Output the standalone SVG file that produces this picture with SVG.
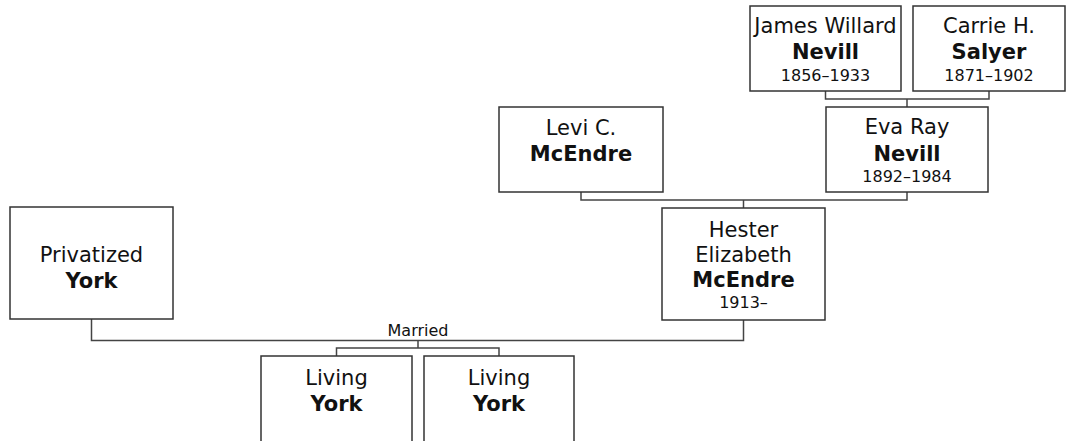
<svg xmlns="http://www.w3.org/2000/svg" width="1066" height="441" viewBox="0 0 1066 441">
<style>
.box{fill:#fff;stroke:#333;stroke-width:1.5}
.con{fill:none;stroke:#444;stroke-width:1.5}
text{font-family:"DejaVu Sans","Verdana",sans-serif;fill:#111;text-anchor:middle}
.n{font-size:21px}
.b{font-size:21px;font-weight:bold}
.d{font-size:16px}
.m{font-size:16px}
</style>
<rect width="1066" height="441" fill="#fff"/>
<g id="connectors">
<path class="con" d="M825.5 91 V99 H989 V91 M907 99 V107"/>
<path class="con" d="M581 192 V200 H907 V192 M743.5 200 V208"/>
<path class="con" d="M91.5 319 V340.5 H743.5 V320"/>
<path class="con" d="M418 340.5 V348 M336.5 356 V348 H499 V356"/>
<text class="m" x="418" y="336">Married</text>
</g>
<g id="james">
<rect class="box" x="750" y="6" width="151" height="85"/>
<text class="n" x="825.5" y="33">James Willard</text>
<text class="b" x="825.5" y="59">Nevill</text>
<text class="d" x="825.5" y="81">1856–1933</text>
</g>
<g id="carrie">
<rect class="box" x="913" y="6" width="152" height="85"/>
<text class="n" x="989" y="33">Carrie H.</text>
<text class="b" x="989" y="59">Salyer</text>
<text class="d" x="989" y="81">1871–1902</text>
</g>
<g id="eva">
<rect class="box" x="826" y="107" width="162" height="85"/>
<text class="n" x="907" y="134">Eva Ray</text>
<text class="b" x="907" y="161">Nevill</text>
<text class="d" x="907" y="182">1892–1984</text>
</g>
<g id="levi">
<rect class="box" x="499" y="107" width="164" height="85"/>
<text class="n" x="581" y="135">Levi C.</text>
<text class="b" x="581" y="161">McEndre</text>
</g>
<g id="hester">
<rect class="box" x="662" y="208" width="163" height="112"/>
<text class="n" x="743.5" y="237">Hester</text>
<text class="n" x="743.5" y="262">Elizabeth</text>
<text class="b" x="743.5" y="287">McEndre</text>
<text class="d" x="743.5" y="308">1913–</text>
</g>
<g id="privatized">
<rect class="box" x="10" y="207" width="163" height="112"/>
<text class="n" x="91.5" y="262">Privatized</text>
<text class="b" x="91.5" y="288">York</text>
</g>
<g id="living1">
<rect class="box" x="261" y="356" width="151" height="112"/>
<text class="n" x="336.5" y="385">Living</text>
<text class="b" x="336.5" y="411">York</text>
</g>
<g id="living2">
<rect class="box" x="424" y="356" width="150" height="112"/>
<text class="n" x="499" y="385">Living</text>
<text class="b" x="499" y="411">York</text>
</g>
</svg>
